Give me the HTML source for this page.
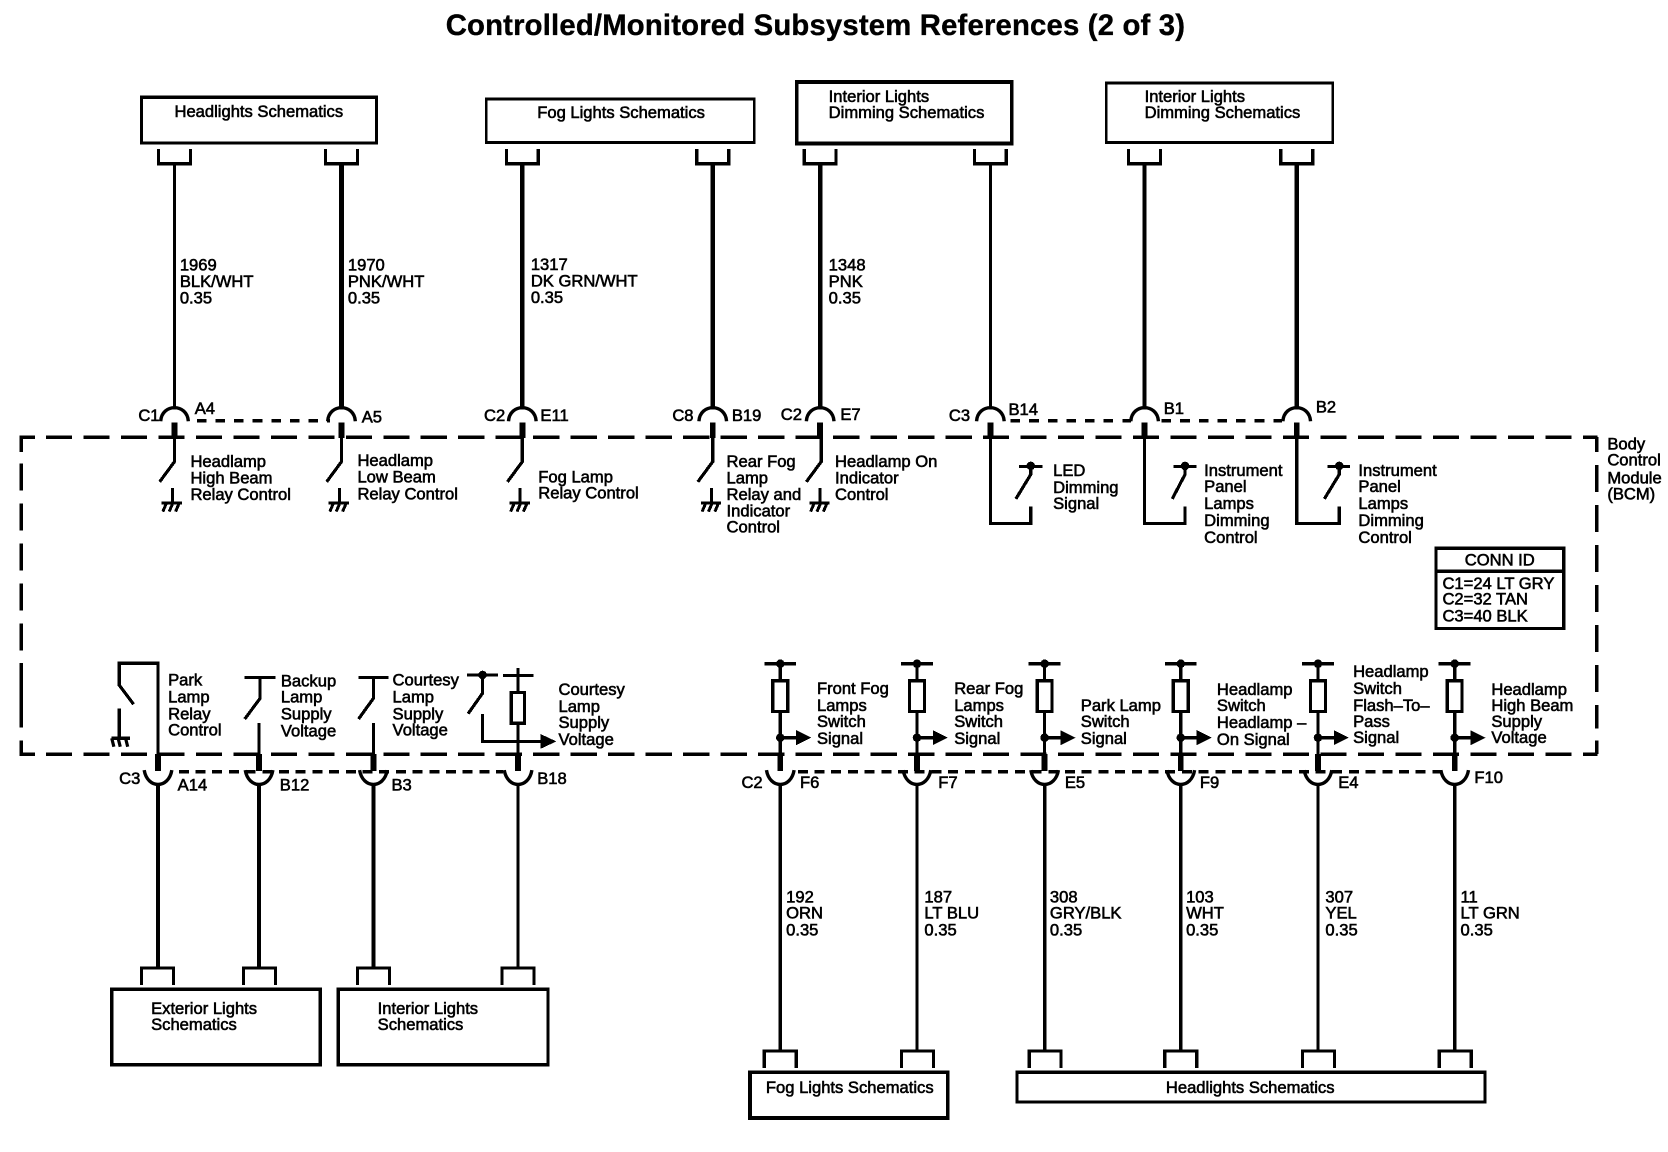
<!DOCTYPE html>
<html><head><meta charset="utf-8"><title>Controlled/Monitored Subsystem References (2 of 3)</title>
<style>
html,body{margin:0;padding:0;background:#fff}
svg{display:block}
text{font-family:"Liberation Sans",sans-serif;font-size:15.6px;fill:#000;stroke:#000;stroke-width:.55px}
.s{fill:none;stroke:#000;shape-rendering:crispEdges}
</style></head><body>
<svg xmlns="http://www.w3.org/2000/svg" width="1668" height="1152" viewBox="0 0 1568 1083">
<defs>
<path id="brT" d="M-15 140V154H15V140"/>
<path id="brB" d="M-15 926V910H15V926"/>
<g id="arcT"><path d="M-13 396C-12 379 12 379 13 396" stroke-width="3.2" style="shape-rendering:auto"/><path d="M0 397V412" stroke-width="5.5"/></g>
<g id="arcB"><path d="M-13 724C-10 742 10 742 13 724" stroke-width="3.2" style="shape-rendering:auto"/><path d="M0 709V725" stroke-width="5.5"/></g>
<g id="gnd" stroke-width="2.8"><path d="M0 459V473M-10 473H9M-9 481L-6 474M-3 481L0 474M3 481L6 474"/></g>
<g id="sw"><path d="M0 411V434L-14 453" stroke-width="3"/></g>
<g id="sig" stroke-width="3">
<path d="M0 620V640M0 669V709M-15 624H15M0 693.5H15"/>
<rect x="-7" y="640" width="14" height="29"/>
<circle cx="0" cy="693.5" r="2.5" fill="#000"/>
<circle cx="0" cy="624" r="2.5" fill="#000"/>
<path d="M15 686.5L29 693.5L15 700.5Z" fill="#000" stroke="none"/>
</g>
</defs>

<text x="419" y="33" style="font-size:27.5px;font-weight:bold;stroke-width:.35px" textLength="695" lengthAdjust="spacing">Controlled/Monitored Subsystem References (2 of 3)</text>

<!-- Top boxes -->
<g class="s" stroke-width="3">
<rect x="133" y="91.5" width="221" height="43"/>
<rect x="457" y="93" width="252" height="41" stroke-width="2.5"/>
<rect x="749" y="77" width="202" height="58" stroke-width="3.5"/>
<rect x="1040" y="78" width="213" height="56" stroke-width="2.5"/>
<use href="#brT" x="164"/><use href="#brT" x="321"/><use href="#brT" x="491"/><use href="#brT" x="670"/><use href="#brT" x="771"/><use href="#brT" x="931"/><use href="#brT" x="1076"/><use href="#brT" x="1219"/>
<path d="M164 154V385" stroke-width="3"/>
<path d="M321 154V385" stroke-width="4.5"/>
<path d="M491 154V385" stroke-width="4.5"/>
<path d="M670 154V385" stroke-width="4.5"/>
<path d="M771 154V385" stroke-width="4.5"/>
<path d="M931 154V385" stroke-width="3"/>
<path d="M1076 154V385" stroke-width="3.5"/>
<path d="M1219 154V385" stroke-width="4"/>
<use href="#arcT" x="164"/><use href="#arcT" x="321"/><use href="#arcT" x="491"/><use href="#arcT" x="670"/><use href="#arcT" x="771"/><use href="#arcT" x="931"/><use href="#arcT" x="1076"/><use href="#arcT" x="1219"/>
<path d="M185 395.5H310" stroke-width="3" stroke-dasharray="9 8.5"/>
<path d="M950 395.5H1063" stroke-width="3" stroke-dasharray="9 8.5"/>
<path d="M1092 395.5H1205" stroke-width="3" stroke-dasharray="9 8.5"/>

<!-- BCM dashed box -->
<path d="M43 411H1502" stroke-width="3.5" stroke-dasharray="24.5 10.75"/>
<path d="M43 709H1502" stroke-width="3.5" stroke-dasharray="24.5 10.75"/>
<path d="M33 411H20V425M20 696V709H33" stroke-width="3.5"/>
<path d="M20 435.6V649" stroke-width="3.5" stroke-dasharray="25.4 12.2"/>
<path d="M20 623.5V684" stroke-width="3.5"/>
<path d="M1501 411V425M1501 696V709" stroke-width="3.5"/>
<path d="M1501 437V685" stroke-width="3.5" stroke-dasharray="25.4 12.2"/>

<!-- Top relay switches -->
<use href="#sw" x="164"/><use href="#gnd" x="162"/>
<use href="#sw" x="321"/><use href="#gnd" x="319"/>
<use href="#sw" x="491"/><use href="#gnd" x="489"/>
<use href="#sw" x="670"/><use href="#gnd" x="669"/>
<use href="#sw" x="772"/><use href="#gnd" x="771"/>

<!-- Dimming loops -->
<path d="M931 411V492H969V476M958 438.5H980M969 438.5V446L955 469" stroke-width="3"/>
<path d="M1076 411V492H1114V476M1103 438.5H1125M1114 438.5V446L1102 469" stroke-width="3"/>
<path d="M1219 411V492H1259V476M1248 438.5H1269M1259 438.5V446L1245 469" stroke-width="3"/>
<circle cx="969" cy="438" r="2.5" fill="#000"/><circle cx="1114" cy="438" r="2.5" fill="#000"/><circle cx="1259" cy="438" r="2.5" fill="#000"/>

<!-- CONN ID -->
<rect x="1350" y="515.5" width="120" height="75.5"/>
<path d="M1350 537H1470"/>

<!-- Lower left -->
<path d="M148.5 709V623.5H112V644L125.5 662M112 666V694M105 694H122" stroke-width="3"/>
<path d="M107 702L105 694M113 702L111 694M120 702L118 694" stroke-width="3" style="shape-rendering:auto"/>
<path d="M243.5 709V679.5M230 637H259M244.5 637V656.5L230 676" stroke-width="3"/>
<path d="M351 709V679.5M337 637H365M351 637V656.5L337 676" stroke-width="3"/>
<path d="M439 634.5H468M453.6 634.5V651.7L440 671M453.6 671V697H508" stroke-width="3"/>
<circle cx="453.6" cy="634.5" r="2.5" fill="#000"/>
<path d="M508 690L523 697L508 704Z" fill="#000" stroke="none"/>
<path d="M473 635H501.5M487 628V651M487 680V709" stroke-width="3"/>
<rect x="480.5" y="651" width="12.5" height="29" stroke-width="3"/>
<use href="#arcB" x="148.5"/><use href="#arcB" x="243.5"/><use href="#arcB" x="351"/><use href="#arcB" x="487"/>
<path d="M148.5 737V910" stroke-width="4"/>
<path d="M243.5 737V910" stroke-width="4"/>
<path d="M351 737V910" stroke-width="4"/>
<path d="M487 737V910" stroke-width="3"/>
<use href="#brB" x="148"/><use href="#brB" x="244"/><use href="#brB" x="351"/><use href="#brB" x="487"/>
<rect x="105" y="930" width="196" height="71"/>
<rect x="318" y="930" width="197" height="71"/>
<path d="M168 725.5H473" stroke-width="3" stroke-dasharray="9.4 6.3"/>

<!-- Lower right -->
<use href="#sig" x="733.5"/><use href="#sig" x="862"/><use href="#sig" x="982"/><use href="#sig" x="1110"/><use href="#sig" x="1239"/><use href="#sig" x="1367.5"/>
<use href="#arcB" x="733.5"/><use href="#arcB" x="862"/><use href="#arcB" x="982"/><use href="#arcB" x="1110"/><use href="#arcB" x="1239"/><use href="#arcB" x="1367.5"/>
<path d="M733.5 737V988M862 737V988M982 737V988M1110 737V988M1239 737V988M1367.5 737V988" stroke-width="3.2"/>
<use href="#brB" x="733.5" y="78"/><use href="#brB" x="862.5" y="78"/><use href="#brB" x="982.5" y="78"/><use href="#brB" x="1110" y="78"/><use href="#brB" x="1239.5" y="78"/><use href="#brB" x="1368" y="78"/>
<path d="M750 725.5H1355" stroke-width="3" stroke-dasharray="9.4 6.3"/>
<rect x="705" y="1008" width="186" height="43" stroke-width="3.5"/>
<rect x="956" y="1008" width="440" height="28" stroke-width="3"/>
</g>

<!-- Box labels -->
<text x="164" y="110">Headlights Schematics</text>
<text x="505" y="111">Fog Lights Schematics</text>
<text x="779" y="96">Interior Lights</text><text x="779" y="111">Dimming Schematics</text>
<text x="1076" y="96">Interior Lights</text><text x="1076" y="111">Dimming Schematics</text>

<!-- Wire labels top -->
<text x="169" y="254.5">1969</text><text x="169" y="270">BLK/WHT</text><text x="169" y="285.5">0.35</text>
<text x="327" y="254.5">1970</text><text x="327" y="270">PNK/WHT</text><text x="327" y="285.5">0.35</text>
<text x="499" y="254">1317</text><text x="499" y="269.5">DK GRN/WHT</text><text x="499" y="285">0.35</text>
<text x="779" y="254.5">1348</text><text x="779" y="270">PNK</text><text x="779" y="285.5">0.35</text>

<!-- Connector labels top -->
<text x="130" y="396">C1</text><text x="183" y="389">A4</text><text x="340" y="397">A5</text>
<text x="455" y="396">C2</text><text x="508" y="396">E11</text>
<text x="632" y="396">C8</text><text x="688" y="396">B19</text>
<text x="734" y="395">C2</text><text x="790" y="395">E7</text>
<text x="892" y="396">C3</text><text x="948" y="390">B14</text>
<text x="1094" y="389">B1</text><text x="1237" y="388">B2</text>

<!-- Upper function labels -->
<text x="179" y="439">Headlamp</text><text x="179" y="454.5">High Beam</text><text x="179" y="470">Relay Control</text>
<text x="336" y="438">Headlamp</text><text x="336" y="453.5">Low Beam</text><text x="336" y="469.5">Relay Control</text>
<text x="506" y="453.5">Fog Lamp</text><text x="506" y="468.5">Relay Control</text>
<text x="683" y="439">Rear Fog</text><text x="683" y="454.5">Lamp</text><text x="683" y="470">Relay and</text><text x="683" y="485.5">Indicator</text><text x="683" y="500.5">Control</text>
<text x="785" y="439">Headlamp On</text><text x="785" y="454.5">Indicator</text><text x="785" y="470">Control</text>
<text x="990" y="447.5">LED</text><text x="990" y="463.5">Dimming</text><text x="990" y="478.5">Signal</text>
<text x="1132" y="447.5">Instrument</text><text x="1132" y="462.5">Panel</text><text x="1132" y="478.5">Lamps</text><text x="1132" y="494.5">Dimming</text><text x="1132" y="510.5">Control</text>
<text x="1277" y="447.5">Instrument</text><text x="1277" y="462.5">Panel</text><text x="1277" y="478.5">Lamps</text><text x="1277" y="494.5">Dimming</text><text x="1277" y="510.5">Control</text>
<text x="1511" y="422.5">Body</text><text x="1511" y="437.5">Control</text><text x="1511" y="454.5">Module</text><text x="1511" y="469.5">(BCM)</text>

<!-- CONN ID text -->
<text x="1377" y="531.5">CONN ID</text>
<text x="1356" y="553.5">C1=24 LT GRY</text><text x="1356" y="568.5">C2=32 TAN</text><text x="1356" y="584.5">C3=40 BLK</text>

<!-- Lower function labels -->
<text x="158" y="644.5">Park</text><text x="158" y="660.5">Lamp</text><text x="158" y="676.5">Relay</text><text x="158" y="691.5">Control</text>
<text x="264" y="645.5">Backup</text><text x="264" y="660.5">Lamp</text><text x="264" y="676.5">Supply</text><text x="264" y="692.5">Voltage</text>
<text x="369" y="644.5">Courtesy</text><text x="369" y="660.5">Lamp</text><text x="369" y="676.5">Supply</text><text x="369" y="691.5">Voltage</text>
<text x="525" y="653.5">Courtesy</text><text x="525" y="669.5">Lamp</text><text x="525" y="684.5">Supply</text><text x="525" y="700.5">Voltage</text>
<text x="768" y="652.5">Front Fog</text><text x="768" y="668.5">Lamps</text><text x="768" y="683.5">Switch</text><text x="768" y="699.5">Signal</text>
<text x="897" y="652.5">Rear Fog</text><text x="897" y="668.5">Lamps</text><text x="897" y="683.5">Switch</text><text x="897" y="699.5">Signal</text>
<text x="1016" y="668.5">Park Lamp</text><text x="1016" y="683.5">Switch</text><text x="1016" y="699.5">Signal</text>
<text x="1144" y="653.5">Headlamp</text><text x="1144" y="668.5">Switch</text><text x="1144" y="684.5">Headlamp –</text><text x="1144" y="700.5">On Signal</text>
<text x="1272" y="636.5">Headlamp</text><text x="1272" y="652.5">Switch</text><text x="1272" y="668.5">Flash–To–</text><text x="1272" y="683.5">Pass</text><text x="1272" y="698.5">Signal</text>
<text x="1402" y="653.5">Headlamp</text><text x="1402" y="668.5">High Beam</text><text x="1402" y="683.5">Supply</text><text x="1402" y="698.5">Voltage</text>

<!-- Connector labels bottom -->
<text x="112" y="737">C3</text><text x="167" y="743">A14</text><text x="263" y="743">B12</text><text x="368" y="743">B3</text><text x="505" y="737">B18</text>
<text x="697" y="741">C2</text><text x="752" y="741">F6</text><text x="882" y="741">F7</text><text x="1001" y="741">E5</text><text x="1128" y="741">F9</text><text x="1258" y="741">E4</text><text x="1386" y="736">F10</text>

<!-- Wire labels bottom -->
<text x="739" y="848.5">192</text><text x="739" y="863.5">ORN</text><text x="739" y="879.5">0.35</text>
<text x="869" y="848.5">187</text><text x="869" y="863.5">LT BLU</text><text x="869" y="879.5">0.35</text>
<text x="987" y="848.5">308</text><text x="987" y="863.5">GRY/BLK</text><text x="987" y="879.5">0.35</text>
<text x="1115" y="848.5">103</text><text x="1115" y="863.5">WHT</text><text x="1115" y="879.5">0.35</text>
<text x="1246" y="848.5">307</text><text x="1246" y="863.5">YEL</text><text x="1246" y="879.5">0.35</text>
<text x="1373" y="848.5">11</text><text x="1373" y="863.5">LT GRN</text><text x="1373" y="879.5">0.35</text>

<!-- Bottom box labels -->
<text x="142" y="953.5">Exterior Lights</text><text x="142" y="968.5">Schematics</text>
<text x="355" y="953.5">Interior Lights</text><text x="355" y="968.5">Schematics</text>
<text x="720" y="1027.5">Fog Lights Schematics</text>
<text x="1096" y="1027.5">Headlights Schematics</text>
</svg>
</body></html>
